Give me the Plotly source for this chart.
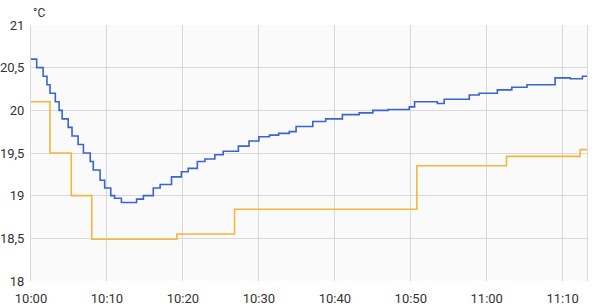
import plotly.graph_objects as go
import pandas as pd

base = pd.Timestamp("2024-01-01 10:00")

# Measured temperature (blue) - minutes after 10:00, value in °C
meas_min = [0, 0.75, 1.6, 2.1, 2.5, 3.2, 3.7, 4.1, 4.9, 5.4, 6.2, 6.9, 7.8, 8.2,
            9.1, 9.7, 10.5, 11.0, 11.9, 13.9, 14.8, 16.1, 17.0, 18.5, 19.8, 20.7,
            21.9, 22.9, 24.2, 25.3, 27.3, 28.7, 30.0, 31.4, 32.6, 34.0, 34.9,
            37.1, 38.8, 41.0, 43.2, 45.0, 47.0, 49.8, 50.5, 53.5, 54.4, 57.7,
            59.0, 61.4, 63.3, 65.3, 69.0, 71.0, 72.6, 73.2]
meas_val = [20.6, 20.5, 20.4, 20.3, 20.2, 20.1, 20.0, 19.9, 19.8, 19.7, 19.6, 19.5,
            19.4, 19.3, 19.18, 19.09, 19.0, 18.97, 18.92, 18.96, 19.0, 19.09,
            19.13, 19.22, 19.28, 19.32, 19.4, 19.43, 19.48, 19.52, 19.58, 19.64,
            19.69, 19.71, 19.73, 19.75, 19.81, 19.87, 19.9, 19.95, 19.97, 20.0,
            20.01, 20.04, 20.1, 20.08, 20.13, 20.18, 20.2, 20.24, 20.27, 20.3,
            20.38, 20.37, 20.4, 20.4]

# Setpoint (yellow)
set_min = [0, 2.5, 5.3, 8.0, 19.2, 26.8, 50.8, 62.6, 72.3, 73.2]
set_val = [20.1, 19.5, 19.0, 18.49, 18.55, 18.84, 19.35, 19.46, 19.54, 19.54]

y_ticks = [18, 18.5, 19, 19.5, 20, 20.5, 21]

def to_time(mins):
    return [base + pd.Timedelta(minutes=m) for m in mins]

fig = go.Figure()
fig.add_trace(go.Scatter(x=to_time(set_min), y=set_val, mode="lines",
                         line=dict(color="#f5b73b", width=1.6, shape="hv"),
                         showlegend=False, hoverinfo="skip"))
fig.add_trace(go.Scatter(x=to_time(meas_min), y=meas_val, mode="lines",
                         line=dict(color="#3a63d4", width=1.6, shape="hv"),
                         showlegend=False, hoverinfo="skip"))

grid = "#d9d9d9"
fig.update_layout(
    width=595, height=307,
    margin=dict(l=31, r=8, t=25, b=26),
    paper_bgcolor="white", plot_bgcolor="#fafafa",
    separators=",.",
    font=dict(family="Roboto", size=13, color="#333333"),
    xaxis=dict(type="date", automargin=False,
               range=[base, base + pd.Timedelta(minutes=73.2)],
               tickformat="%H:%M", dtick=600000,
               tick0=base,
               showgrid=True, gridcolor=grid, gridwidth=1,
               zeroline=False, showline=False,
               ticks="outside", ticklen=5, tickcolor="rgba(0,0,0,0)"),
    yaxis=dict(range=[18, 21], tickvals=y_ticks, automargin=False,
               showgrid=True, gridcolor=grid, gridwidth=1,
               zeroline=False, showline=True, linecolor=grid, mirror=True,
               ticks="outside", ticklen=3, tickcolor="rgba(0,0,0,0)"),
    annotations=[dict(text="°C", xref="paper", yref="paper", x=0, y=1,
                      xanchor="left", yanchor="bottom", yshift=3, showarrow=False,
                      font=dict(size=12, color="#333333"))],
)

fig.write_html("out.html")
